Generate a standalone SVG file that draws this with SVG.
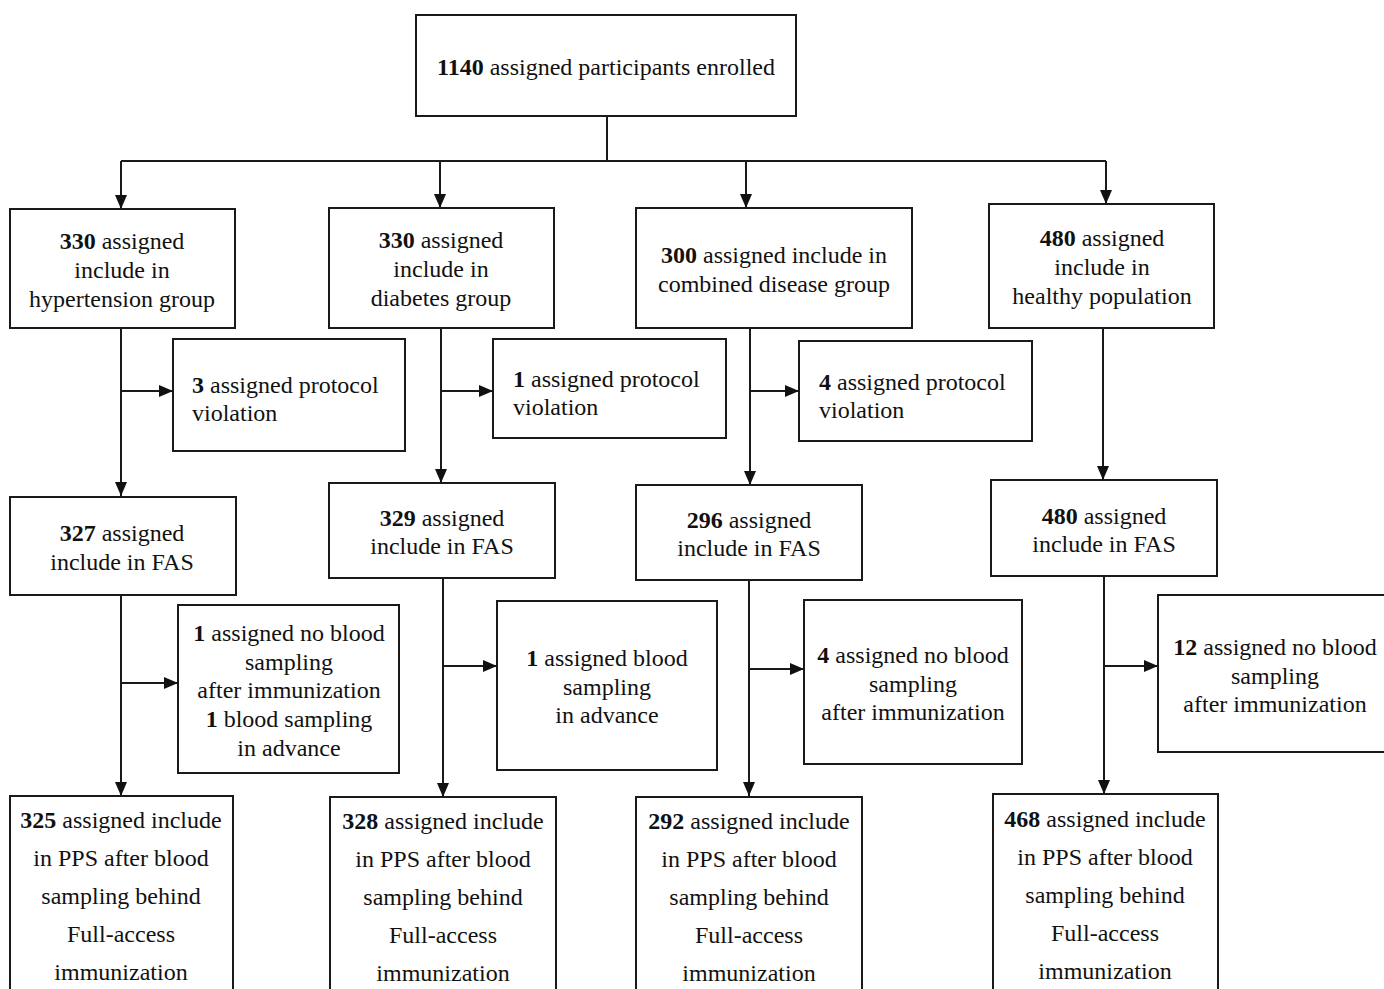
<svg xmlns="http://www.w3.org/2000/svg" width="1384" height="989" viewBox="0 0 1384 989">
<style>
.box{fill:#fff;stroke:#1a1a1a;stroke-width:2}
text{font-family:"Liberation Serif","Times New Roman",serif;font-size:24px;fill:#111}
.c{text-anchor:middle}
.b{font-weight:bold}
.ln{fill:none;stroke:#1a1a1a;stroke-width:2}
</style>
<defs>
<marker id="ah" markerUnits="userSpaceOnUse" markerWidth="14" markerHeight="12" refX="14" refY="6" orient="auto">
<path d="M0,0 L14,6 L0,12 z" fill="#111"/>
</marker>
</defs>
<rect width="1384" height="989" fill="#fff"/>
<g id="connectors" class="ln">
<path class="ln" d="M607,116 V161 M121,161 H1106"/>
<path class="ln" d="M121,161 V209" marker-end="url(#ah)"/>
<path class="ln" d="M440,161 V208" marker-end="url(#ah)"/>
<path class="ln" d="M746,161 V208" marker-end="url(#ah)"/>
<path class="ln" d="M1106,161 V204" marker-end="url(#ah)"/>
<path class="ln" d="M121,328 V496" marker-end="url(#ah)"/>
<path class="ln" d="M121,391 H173" marker-end="url(#ah)"/>
<path class="ln" d="M441,328 V483" marker-end="url(#ah)"/>
<path class="ln" d="M441,391 H493" marker-end="url(#ah)"/>
<path class="ln" d="M750,328 V485" marker-end="url(#ah)"/>
<path class="ln" d="M750,391 H799" marker-end="url(#ah)"/>
<path class="ln" d="M1103,328 V480" marker-end="url(#ah)"/>
<path class="ln" d="M121,595 V796" marker-end="url(#ah)"/>
<path class="ln" d="M121,683 H178" marker-end="url(#ah)"/>
<path class="ln" d="M443,578 V797" marker-end="url(#ah)"/>
<path class="ln" d="M443,666 H497" marker-end="url(#ah)"/>
<path class="ln" d="M749,580 V796" marker-end="url(#ah)"/>
<path class="ln" d="M749,669 H804" marker-end="url(#ah)"/>
<path class="ln" d="M1104,576 V794" marker-end="url(#ah)"/>
<path class="ln" d="M1104,666 H1158" marker-end="url(#ah)"/>
</g>
<g id="enrolled">
<rect class="box" x="416" y="15" width="380" height="101"/>
<text class="c" x="606" y="75"><tspan class="b">1140</tspan> assigned participants enrolled</text>
</g>
<g id="hypertension">
<rect class="box" x="10" y="209" width="225" height="119"/>
<text class="c" x="122" y="249"><tspan class="b">330</tspan> assigned</text>
<text class="c" x="122" y="278">include in</text>
<text class="c" x="122" y="307">hypertension group</text>
</g>
<g id="diabetes">
<rect class="box" x="329" y="208" width="225" height="120"/>
<text class="c" x="441" y="248"><tspan class="b">330</tspan> assigned</text>
<text class="c" x="441" y="277">include in</text>
<text class="c" x="441" y="306">diabetes group</text>
</g>
<g id="combined">
<rect class="box" x="636" y="208" width="276" height="120"/>
<text class="c" x="774" y="263"><tspan class="b">300</tspan> assigned include in</text>
<text class="c" x="774" y="292">combined disease group</text>
</g>
<g id="healthy">
<rect class="box" x="989" y="204" width="225" height="124"/>
<text class="c" x="1102" y="246"><tspan class="b">480</tspan> assigned</text>
<text class="c" x="1102" y="275">include in</text>
<text class="c" x="1102" y="304">healthy population</text>
</g>
<g id="pv-hyper">
<rect class="box" x="173" y="339" width="232" height="112"/>
<text x="192" y="393"><tspan class="b">3</tspan> assigned protocol</text>
<text x="192" y="421">violation</text>
</g>
<g id="pv-diab">
<rect class="box" x="493" y="339" width="233" height="99"/>
<text x="513" y="387"><tspan class="b">1</tspan> assigned protocol</text>
<text x="513" y="415">violation</text>
</g>
<g id="pv-comb">
<rect class="box" x="799" y="341" width="233" height="100"/>
<text x="819" y="390"><tspan class="b">4</tspan> assigned protocol</text>
<text x="819" y="418">violation</text>
</g>
<g id="fas-hyper">
<rect class="box" x="10" y="497" width="226" height="98"/>
<text class="c" x="122" y="541"><tspan class="b">327</tspan> assigned</text>
<text class="c" x="122" y="570">include in FAS</text>
</g>
<g id="fas-diab">
<rect class="box" x="329" y="483" width="226" height="95"/>
<text class="c" x="442" y="526"><tspan class="b">329</tspan> assigned</text>
<text class="c" x="442" y="554">include in FAS</text>
</g>
<g id="fas-comb">
<rect class="box" x="636" y="485" width="226" height="95"/>
<text class="c" x="749" y="528"><tspan class="b">296</tspan> assigned</text>
<text class="c" x="749" y="556">include in FAS</text>
</g>
<g id="fas-healthy">
<rect class="box" x="991" y="480" width="226" height="96"/>
<text class="c" x="1104" y="524"><tspan class="b">480</tspan> assigned</text>
<text class="c" x="1104" y="552">include in FAS</text>
</g>
<g id="ex-hyper">
<rect class="box" x="178" y="605" width="221" height="168"/>
<text class="c" x="289" y="641"><tspan class="b">1</tspan> assigned no blood</text>
<text class="c" x="289" y="670">sampling</text>
<text class="c" x="289" y="698">after immunization</text>
<text class="c" x="289" y="727"><tspan class="b">1</tspan> blood sampling</text>
<text class="c" x="289" y="756">in advance</text>
</g>
<g id="ex-diab">
<rect class="box" x="497" y="601" width="220" height="169"/>
<text class="c" x="607" y="666"><tspan class="b">1</tspan> assigned blood</text>
<text class="c" x="607" y="695">sampling</text>
<text class="c" x="607" y="723">in advance</text>
</g>
<g id="ex-comb">
<rect class="box" x="804" y="600" width="218" height="164"/>
<text class="c" x="913" y="663"><tspan class="b">4</tspan> assigned no blood</text>
<text class="c" x="913" y="692">sampling</text>
<text class="c" x="913" y="720">after immunization</text>
</g>
<g id="ex-healthy">
<rect class="box" x="1158" y="595" width="240" height="157"/>
<text class="c" x="1275" y="655"><tspan class="b">12</tspan> assigned no blood</text>
<text class="c" x="1275" y="684">sampling</text>
<text class="c" x="1275" y="712">after immunization</text>
</g>
<g id="pps-hyper">
<rect class="box" x="10" y="796" width="223" height="210"/>
<text class="c" x="121" y="828"><tspan class="b">325</tspan> assigned include</text>
<text class="c" x="121" y="866">in PPS after blood</text>
<text class="c" x="121" y="904">sampling behind</text>
<text class="c" x="121" y="942">Full-access</text>
<text class="c" x="121" y="980">immunization</text>
</g>
<g id="pps-diab">
<rect class="box" x="330" y="797" width="226" height="210"/>
<text class="c" x="443" y="829"><tspan class="b">328</tspan> assigned include</text>
<text class="c" x="443" y="867">in PPS after blood</text>
<text class="c" x="443" y="905">sampling behind</text>
<text class="c" x="443" y="943">Full-access</text>
<text class="c" x="443" y="981">immunization</text>
</g>
<g id="pps-comb">
<rect class="box" x="636" y="797" width="226" height="210"/>
<text class="c" x="749" y="829"><tspan class="b">292</tspan> assigned include</text>
<text class="c" x="749" y="867">in PPS after blood</text>
<text class="c" x="749" y="905">sampling behind</text>
<text class="c" x="749" y="943">Full-access</text>
<text class="c" x="749" y="981">immunization</text>
</g>
<g id="pps-healthy">
<rect class="box" x="993" y="794" width="225" height="210"/>
<text class="c" x="1105" y="827"><tspan class="b">468</tspan> assigned include</text>
<text class="c" x="1105" y="865">in PPS after blood</text>
<text class="c" x="1105" y="903">sampling behind</text>
<text class="c" x="1105" y="941">Full-access</text>
<text class="c" x="1105" y="979">immunization</text>
</g>
</svg>
